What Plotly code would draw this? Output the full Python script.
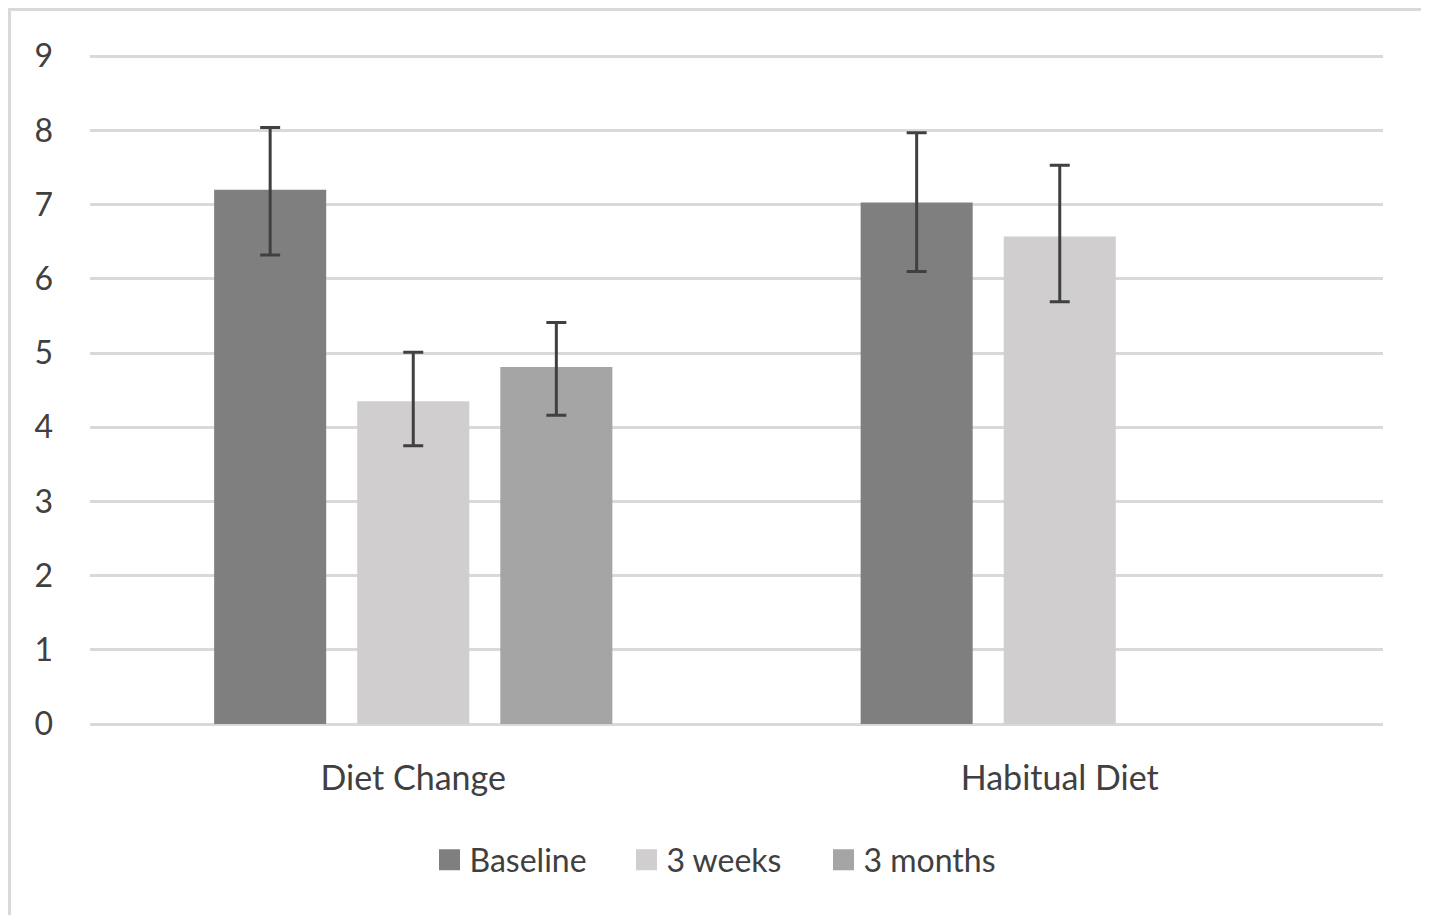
import plotly.graph_objects as go

categories = ["Diet Change", "Habitual Diet"]
series_names = ["Baseline", "3 weeks", "3 months"]
baseline = [7.20, 7.03]
weeks3 = [4.35, 6.57]
months3 = [4.81, None]
baseline_err_plus = [0.84, 0.94]
baseline_err_minus = [0.88, 0.93]
weeks3_err_plus = [0.66, 0.96]
weeks3_err_minus = [0.60, 0.88]
months3_err_plus = [0.60, 0]
months3_err_minus = [0.65, 0]
y_ticks = [0, 1, 2, 3, 4, 5, 6, 7, 8, 9]

colors = ["#7f7f7f", "#d0cece", "#a5a5a5"]
OFF = 8  # page body margin
W, H = 1429 - OFF, 915 - OFF
L, R, T, B = 90 - OFF, 46, 54 - OFF, 191
font = "Lato, 'Open Sans', sans-serif"
txt = "#404040"

fig = go.Figure()
for name, vals, ep, em, c in zip(
    series_names,
    [baseline, weeks3, months3],
    [baseline_err_plus, weeks3_err_plus, months3_err_plus],
    [baseline_err_minus, weeks3_err_minus, months3_err_minus],
    colors,
):
    fig.add_trace(go.Bar(
        name=name, x=categories, y=vals, marker=dict(color=c, line=dict(width=0)),
        error_y=dict(type="data", symmetric=False, array=ep, arrayminus=em,
                     color="#404040", thickness=3, width=10),
        showlegend=False,
    ))
# legend entries with larger square swatches
for name, c in zip(series_names, colors):
    fig.add_trace(go.Scatter(name=name, x=[None], y=[None], mode="markers",
                             marker=dict(symbol="square", size=16, color=c,
                                         line=dict(color=c, width=5)),
                             showlegend=True))

pw = W - L - R
ph = H - T - B
def px_x(x):
    return (x - OFF - L) / pw
def px_y(y):
    return (H - B - (y - OFF)) / ph

fig.add_shape(type="rect", xref="paper", yref="paper",
              x0=px_x(9.5), x1=px_x(1425.5), y0=px_y(940), y1=px_y(9.5),
              line=dict(color="#d9d9d9", width=3), fillcolor="rgba(0,0,0,0)", layer="below")

fig.update_layout(
    width=W, height=H,
    margin=dict(l=L, r=R, t=T, b=B),
    paper_bgcolor="white", plot_bgcolor="white",
    barmode="group", bargap=0.336, bargroupgap=0.217,
    font=dict(family=font, size=30, color=txt),
    showlegend=True,
    legend=dict(orientation="h", x=px_x(725), xanchor="center", y=px_y(860), yanchor="middle",
                font=dict(size=32, color=txt), traceorder="normal",
                entrywidth=152, entrywidthmode="pixels"),
    xaxis=dict(showgrid=False, showline=False, ticks="", ticklabelstandoff=31,
               tickfont=dict(size=34, color=txt)),
    yaxis=dict(range=[0, 9.03], tickvals=y_ticks, showgrid=True, gridcolor="#d9d9d9", gridwidth=2.5,
               zeroline=True, zerolinecolor="#d9d9d9", zerolinewidth=2.5,
               showline=False, ticks="", ticklabelstandoff=36,
               tickfont=dict(size=32, color=txt)),
)

fig.write_html("out.html")
